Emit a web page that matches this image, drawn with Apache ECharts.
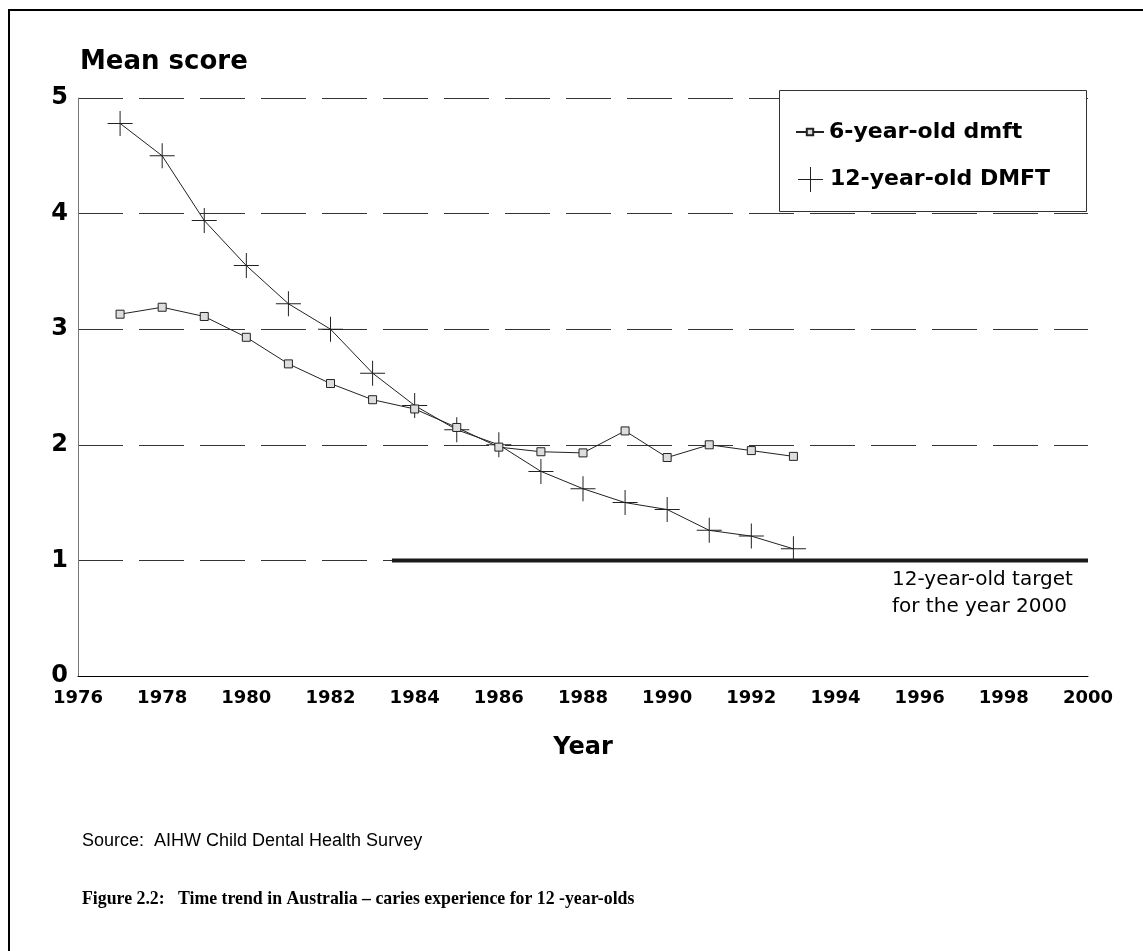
<!DOCTYPE html>
<html>
<head>
<meta charset="utf-8">
<script src="https://cdn.jsdelivr.net/npm/echarts@6/dist/echarts.min.js"></script>
<style>html,body{margin:0;padding:0;background:#fff;}#chart{width:1143px;height:951px;}</style>
</head>
<body>
<div id="chart"></div>
<script>
// ---- data ----
const years = [1977,1978,1979,1980,1981,1982,1983,1984,1985,1986,1987,1988,1989,1990,1991,1992,1993];
const dmft6 = [3.13,3.19,3.11,2.93,2.70,2.53,2.39,2.31,2.15,1.98,1.94,1.93,2.12,1.89,2.00,1.95,1.90];
const dmft12 = [4.78,4.50,3.94,3.55,3.22,3.00,2.62,2.34,2.13,2.00,1.77,1.62,1.50,1.44,1.26,1.21,1.10];
const targetYears = [1983.46, 2000];
const targetValue = 1;
const seriesNames = ['6-year-old dmft', '12-year-old DMFT'];
const xTicks = {min: 1976, max: 2000, interval: 2};
const yTicks = {min: 0, max: 5, interval: 1};

const plusPath = 'path://M12,0 L13,0 L13,25 L12,25 Z M0,12 L25,12 L25,13 L0,13 Z';
const boldFont = '"DejaVu Sans", sans-serif';

const chart = echarts.init(document.getElementById('chart'), null, {renderer: 'canvas'});
chart.setOption({
  animation: false,
  backgroundColor: '#fff',
  grid: {left: 78, right: 55, top: 98, bottom: 275, containLabel: false},
  title: [
    {text: 'Mean score', left: 75, top: 44, textStyle: {fontFamily: boldFont, fontWeight: 'bold', fontSize: 26, color: '#000'}},
    {text: 'Source:  AIHW Child Dental Health Survey', left: 77, top: 827, textStyle: {fontFamily: '"Liberation Sans", Arial, sans-serif', fontWeight: 'normal', fontSize: 18, color: '#000'}},
    {text: 'Figure 2.2:   Time trend in Australia \u2013 caries experience for 12 -year-olds', left: 77, top: 885, textStyle: {fontFamily: '"Liberation Serif", "Times New Roman", serif', fontWeight: 'bold', fontSize: 17.8, color: '#000'}}
  ],
  xAxis: {
    type: 'value', min: xTicks.min, max: xTicks.max, interval: xTicks.interval,
    name: 'Year', nameLocation: 'middle', nameGap: 60,
    nameTextStyle: {fontFamily: boldFont, fontWeight: 'bold', fontSize: 24, color: '#000'},
    axisLine: {show: true, lineStyle: {color: '#000', width: 1}},
    axisTick: {show: false},
    splitLine: {show: false},
    axisLabel: {fontFamily: boldFont, fontWeight: 'bold', fontSize: 18, color: '#000', margin: 13, formatter: v => String(v)}
  },
  yAxis: {
    type: 'value', min: yTicks.min, max: yTicks.max, interval: yTicks.interval,
    axisLine: {show: true, lineStyle: {color: '#777', width: 1}},
    axisTick: {show: false},
    splitLine: {show: true, lineStyle: {color: '#333', width: 1.2, type: [45, 16]}},
    axisLabel: {fontFamily: boldFont, fontWeight: 'bold', fontSize: 24, color: '#000', margin: 10}
  },
  legend: [
    {data: [seriesNames[0]], orient: 'vertical', left: 795, top: 121, itemWidth: 28, itemHeight: 8, itemGap: 0, padding: 0, z: 200,
     textStyle: {fontFamily: boldFont, fontWeight: 'bold', fontSize: 22, color: '#000'}, selectedMode: false},
    {data: [{name: seriesNames[1], icon: plusPath}], orient: 'vertical', left: 798, top: 167, itemWidth: 25, itemHeight: 25, itemGap: 0, padding: 0, z: 200,
     textStyle: {fontFamily: boldFont, fontWeight: 'bold', fontSize: 22, color: '#000', padding: [0, 0, 0, 2]}, selectedMode: false}
  ],
  graphic: [
    {type: 'rect', z: 150, shape: {x: 9, y: 10, width: 1300, height: 1100}, style: {fill: 'none', stroke: '#000', lineWidth: 2}},
    {type: 'rect', z: 150, shape: {x: 779.5, y: 90.5, width: 307, height: 121}, style: {fill: '#fff', stroke: '#333', lineWidth: 1}},
    {type: 'text', z: 150, x: 892, y: 566, style: {text: '12-year-old target\nfor the year 2000', font: '20px "DejaVu Sans", sans-serif', fill: '#000', lineHeight: 27}}
  ],
  series: [
    {
      name: seriesNames[0], type: 'line', data: years.map((y, i) => [y, dmft6[i]]),
      symbol: 'rect', symbolSize: 8, showSymbol: true,
      lineStyle: {color: '#222', width: 1},
      itemStyle: {color: '#ddd', borderColor: '#222', borderWidth: 1},
      z: 5
    },
    {
      name: seriesNames[1], type: 'line', data: years.map((y, i) => [y, dmft12[i]]),
      symbol: plusPath, symbolSize: 25, showSymbol: true,
      lineStyle: {color: '#222', width: 1},
      itemStyle: {color: '#222'},
      z: 4
    },
    {
      name: 'target', type: 'line', data: targetYears.map(y => [y, targetValue]),
      symbol: 'none', lineStyle: {color: '#1a1a1a', width: 4}, z: 3, silent: true
    }
  ]
});
</script>
</body>
</html>
